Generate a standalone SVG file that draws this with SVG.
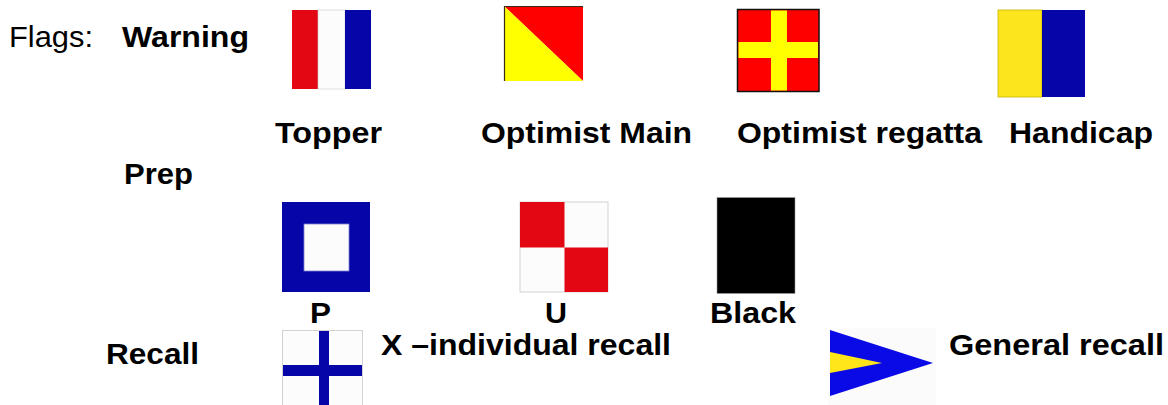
<svg xmlns="http://www.w3.org/2000/svg" width="1168" height="405" viewBox="0 0 1168 405">
<style>
text{font-family:"Liberation Sans",Arial,sans-serif;font-size:30px;fill:#000}
.b{font-weight:bold}
.r{font-weight:normal;font-size:30px}
.red{fill:#e30613}
.wht{fill:#fcfcfc}
.nav{fill:#0505a8}
</style>
<rect width="1168" height="405" fill="#ffffff"/>
<g id="labels">
<text class="r" x="9" y="47" textLength="84" lengthAdjust="spacingAndGlyphs">Flags:</text>
<text class="b" x="122" y="47" textLength="127" lengthAdjust="spacingAndGlyphs">Warning</text>
<text class="b" x="124" y="184" textLength="69" lengthAdjust="spacingAndGlyphs">Prep</text>
<text class="b" x="106" y="364" textLength="93" lengthAdjust="spacingAndGlyphs">Recall</text>
</g>
<g id="flag-topper">
<rect class="red" x="292" y="10" width="27" height="79"/>
<rect class="wht" x="318" y="10" width="27" height="79" stroke="#c8c8c8" stroke-width="0.6"/>
<rect class="nav" x="345" y="10" width="26" height="79"/>
<text class="b" x="275" y="143" textLength="107" lengthAdjust="spacingAndGlyphs">Topper</text>
</g>
<g id="flag-optimist-main">
<polygon points="504,6 583,6 583,81" fill="#ff0000"/>
<polygon points="504,6 504,81 583,81" fill="#ffff00"/>
<path d="M504.5,81 V6.5 H583" fill="none" stroke="#3a2a1a" stroke-width="1.2"/>
<text class="b" x="481" y="143" textLength="211" lengthAdjust="spacingAndGlyphs">Optimist Main</text>
</g>
<g id="flag-optimist-regatta">
<rect x="737.5" y="9.5" width="81.5" height="82" fill="#ff0000" stroke="#111" stroke-width="1.5"/>
<rect x="771" y="10.5" width="16" height="80" fill="#ffff00"/>
<rect x="738.5" y="42" width="79.5" height="16" fill="#ffff00"/>
<text class="b" x="737" y="143" textLength="245" lengthAdjust="spacingAndGlyphs">Optimist regatta</text>
</g>
<g id="flag-handicap">
<rect x="998" y="10" width="44" height="87" fill="#fde51d" stroke="#c8b400" stroke-width="0.8"/>
<rect class="nav" x="1042" y="10" width="43" height="87"/>
<text class="b" x="1009" y="143" textLength="144" lengthAdjust="spacingAndGlyphs">Handicap</text>
</g>
<g id="flag-p">
<rect class="nav" x="282" y="202" width="88" height="90"/>
<rect class="wht" x="304" y="224" width="45" height="47" stroke="#8080d0" stroke-width="0.8"/>
<text class="b" x="310" y="323" textLength="21" lengthAdjust="spacingAndGlyphs">P</text>
</g>
<g id="flag-u">
<rect class="wht" x="520" y="202" width="88" height="90" stroke="#c8c8c8" stroke-width="0.8"/>
<rect class="red" x="520" y="202" width="44.5" height="45.5"/>
<rect class="red" x="564.5" y="247.5" width="43.5" height="44.5"/>
<text class="b" x="545" y="323" textLength="22" lengthAdjust="spacingAndGlyphs">U</text>
</g>
<g id="flag-black">
<rect x="717" y="197.5" width="78" height="96" fill="#000" stroke="#999" stroke-width="0.6"/>
<text class="b" x="710" y="323" textLength="86" lengthAdjust="spacingAndGlyphs">Black</text>
</g>
<g id="flag-x">
<rect class="wht" x="282.5" y="330.5" width="80" height="76" stroke="#c8c8c8" stroke-width="0.8"/>
<rect class="nav" x="319" y="331" width="10" height="74"/>
<rect class="nav" x="283" y="365" width="79" height="11"/>
<text class="b" x="381" y="355" textLength="290" lengthAdjust="spacingAndGlyphs">X –individual recall</text>
</g>
<g id="flag-general-recall">
<rect x="828" y="328" width="108" height="77" fill="#fbfbfb"/>
<polygon points="830,330 933,363 830,396" fill="#0a0ae6"/>
<polygon points="830,352 882,363 830,373" fill="#ffe61a"/>
<text class="b" x="949" y="355" textLength="215" lengthAdjust="spacingAndGlyphs">General recall</text>
</g>
<g id="connectors"></g>
</svg>
